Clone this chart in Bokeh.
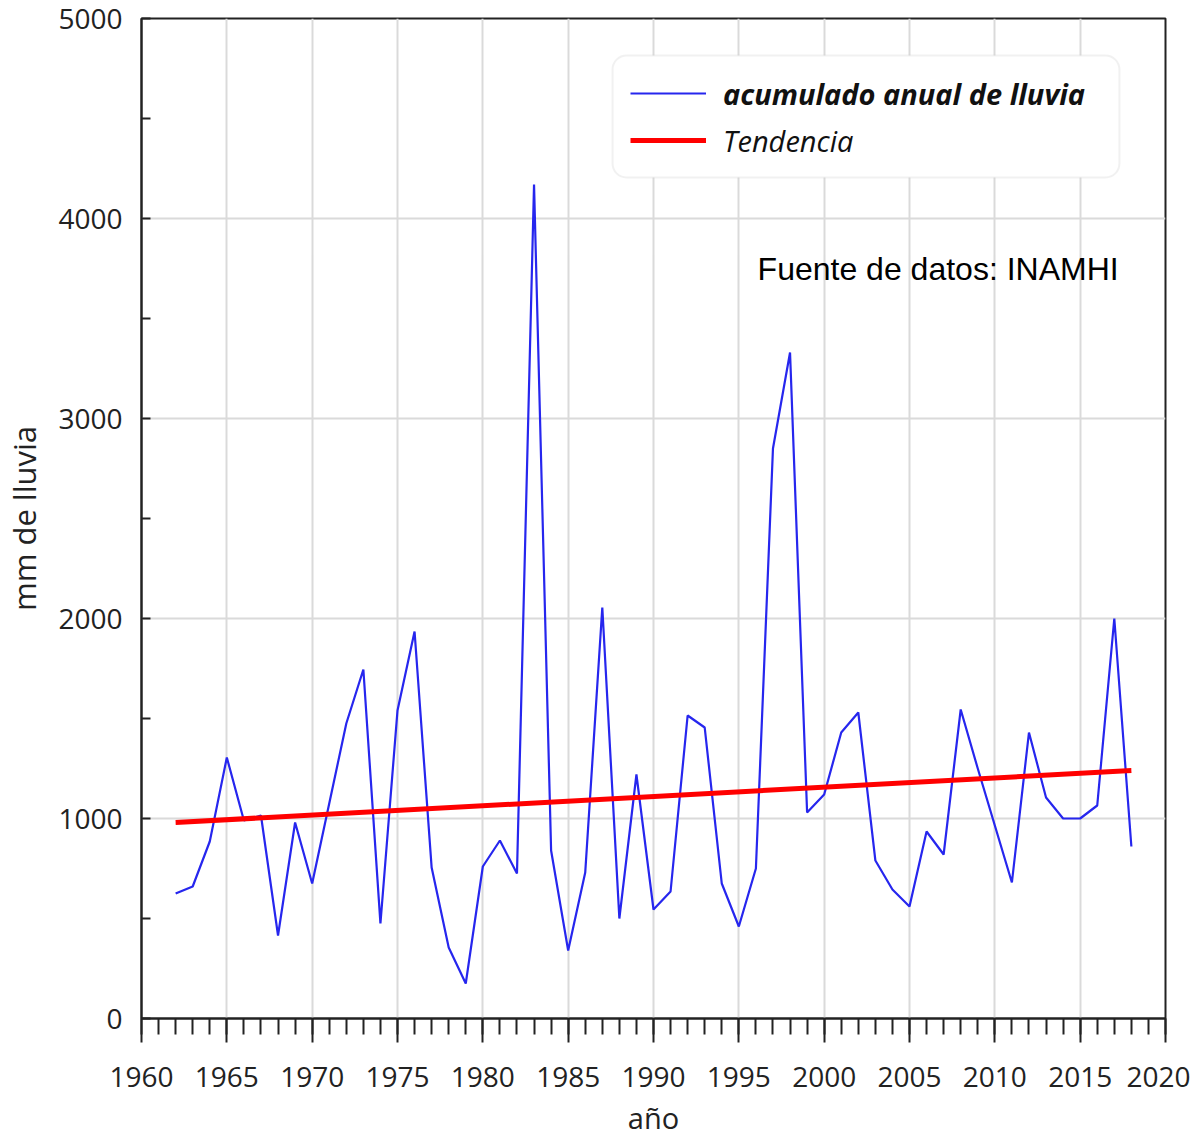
from bokeh.plotting import figure
from bokeh.models import (Range1d, SingleIntervalTicker, Legend, LegendItem,
                          BoxAnnotation, Label)
from bokeh.embed import file_html
from bokeh.resources import INLINE

# ---- data ----
years = list(range(1962, 2019))
rain_mm = [625, 660, 885, 1305, 990, 1015, 415, 980, 675, 1075,
           1475, 1745, 475, 1540, 1935, 755, 355, 175, 760, 890,
           725, 4170, 840, 340, 730, 2055, 500, 1220, 545, 635,
           1515, 1455, 675, 460, 750, 2850, 3330, 1030, 1120, 1430,
           1530, 790, 645, 560, 935, 820, 1545, 1250, 965, 680,
           1430, 1105, 1000, 1000, 1065, 2000, 860]
trend_years = [1962, 2018]
trend_mm = [980, 1240]

label_series = "acumulado anual de lluvia"
label_trend = "Tendencia"
source_note = "Fuente de datos: INAMHI"
x_title = "año"
y_title = "mm de lluvia"

FONT = "Open Sans"

p = figure(width=1190, height=1136, output_backend="svg", toolbar_location=None,
           x_range=Range1d(1960, 2020), y_range=Range1d(0, 5000),
           min_border_left=133, min_border_right=25, min_border_top=18,
           min_border_bottom=118, frame_width=1024, frame_height=1000)

p.background_fill_color = "white"
p.border_fill_color = "white"
p.outline_line_color = "#222222"
p.outline_line_width = 2

# axes
xa = p.xaxis[0]
xa.ticker = SingleIntervalTicker(interval=5, num_minor_ticks=5)
xa.axis_line_color = "#222222"
xa.axis_line_width = 2
xa.major_tick_line_color = "#222222"
xa.major_tick_line_width = 2
xa.minor_tick_line_color = "#222222"
xa.minor_tick_line_width = 2
xa.major_tick_out = 24
xa.major_tick_in = 0
xa.minor_tick_out = 16
xa.minor_tick_in = 0
xa.major_label_standoff = 24
xa.major_label_text_font = FONT
xa.major_label_text_font_size = "28px"
xa.major_label_text_color = "#222222"
xa.axis_label = x_title
xa.axis_label_text_font = FONT
xa.axis_label_text_font_size = "29px"
xa.axis_label_text_font_style = "normal"
xa.axis_label_text_color = "#222222"
xa.axis_label_standoff = 8

ya = p.yaxis[0]
ya.ticker = SingleIntervalTicker(interval=1000, num_minor_ticks=2)
ya.axis_line_color = "#222222"
ya.axis_line_width = 2
ya.major_tick_out = 0
ya.major_tick_in = 0
ya.minor_tick_in = 9
ya.minor_tick_out = 0
ya.minor_tick_line_color = "#222222"
ya.minor_tick_line_width = 2
ya.major_label_standoff = 19
ya.major_label_text_font = FONT
ya.major_label_text_font_size = "28px"
ya.major_label_text_color = "#222222"
ya.axis_label = y_title
ya.axis_label_text_font = FONT
ya.axis_label_text_font_size = "31px"
ya.axis_label_text_font_style = "normal"
ya.axis_label_text_color = "#222222"
ya.axis_label_standoff = 10

for g in (p.xgrid[0], p.ygrid[0]):
    g.grid_line_color = "#dadada"
    g.grid_line_width = 2

# data lines
r_rain = p.line(years, rain_mm, line_color="#2626ee", line_width=2.2)
r_trend = p.line(trend_years, trend_mm, line_color="#ff0000", line_width=5)

# legend box (rounded)
box = BoxAnnotation(left=1987.6, right=2017.3, bottom=4205, top=4815,
                    fill_color="white", fill_alpha=1.0,
                    line_color="#cfcfcf", line_width=2, border_radius=14)
p.add_layout(box)

leg1 = Legend(items=[LegendItem(label=label_series, renderers=[r_rain])],
              location=(489, 905), padding=0, margin=0, spacing=0,
              glyph_width=76, glyph_height=40, label_standoff=17,
              label_text_font=FONT, label_text_font_size="29px",
              label_text_font_style="bold italic", label_text_color="#111111",
              border_line_alpha=0, background_fill_alpha=0)
leg2 = Legend(items=[LegendItem(label=label_trend, renderers=[r_trend])],
              location=(489, 858), padding=0, margin=0, spacing=0,
              glyph_width=76, glyph_height=40, label_standoff=17,
              label_text_font=FONT, label_text_font_size="29px",
              label_text_font_style="italic", label_text_color="#111111",
              border_line_alpha=0, background_fill_alpha=0)
p.add_layout(leg1)
p.add_layout(leg2)

note = Label(x=1996.1, y=3750, text=source_note, text_baseline="middle",
             text_font="Liberation Sans", text_font_size="32px",
             text_color="#000000")
p.add_layout(note)

open("out.html", "w").write(file_html(p, INLINE))
